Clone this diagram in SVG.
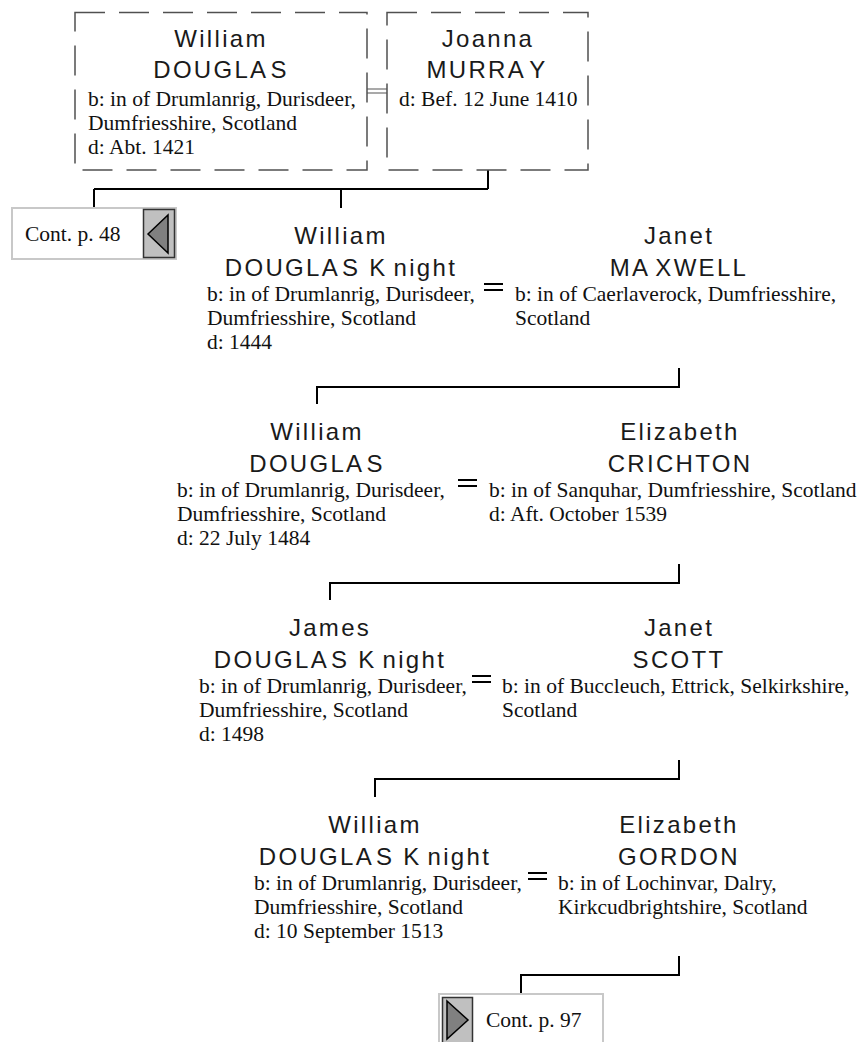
<svg xmlns="http://www.w3.org/2000/svg" width="866" height="1042" viewBox="0 0 866 1042">
<style>
.nm{font-family:"Liberation Sans",Arial,sans-serif;font-size:24px;letter-spacing:2.3px;text-anchor:middle;fill:#1a1a1a}
.dt{font-family:"Liberation Serif","Times New Roman",serif;font-size:21.5px;fill:#111}
.ln{stroke:#000;stroke-width:2;fill:none}
.eq{stroke:#000;stroke-width:2}
.dash{fill:none;stroke:#505050;stroke-width:1.5;stroke-dasharray:30 14}
.cbox{fill:#fff;stroke:#c8c8c8;stroke-width:2}
.btn{fill:#c0c0c0;stroke:#333;stroke-width:1.5}
.tri{fill:#808080;stroke:#000;stroke-width:1.5;stroke-linejoin:miter}
</style>
<rect width="866" height="1042" fill="#fff"/>
<g id="connectors">
<path class="ln" d="M488 170 V189 M94 189 H488 M94 189 V208 M341 189 V208"/>
<path class="ln" d="M679 368 V387 H317 V404"/>
<path class="ln" d="M679 564 V583 H330 V600"/>
<path class="ln" d="M679 760 V779 H375 V797"/>
<path class="ln" d="M679 956 V975 H521 V994"/>
<path d="M367 89 H387 M367 93 H387" stroke="#555" stroke-width="1.2"/>
<path class="eq" d="M484 284 H503 M484 290 H503"/>
<path class="eq" d="M458 480 H477 M458 486 H477"/>
<path class="eq" d="M472 676 H491 M472 682 H491"/>
<path class="eq" d="M528 873 H547 M528 879 H547"/>
</g>
<g id="n-william-douglas-1">
<rect class="dash" x="75" y="12.5" width="292" height="157.5"/>
<text class="nm" x="221" y="47">William</text>
<text class="nm" x="221" y="78">DOUGLA<tspan dx="2">S</tspan></text>
<text class="dt" x="88" y="106">b: in of Drumlanrig, Durisdeer,</text>
<text class="dt" x="88" y="130">Dumfriesshire, Scotland</text>
<text class="dt" x="88" y="154">d: Abt. 1421</text>
</g>
<g id="n-joanna-murray">
<rect class="dash" x="387" y="12.5" width="201" height="157.5"/>
<text class="nm" x="488" y="47">Joanna</text>
<text class="nm" x="487" y="78">MURRA<tspan dx="5">Y</tspan></text>
<text class="dt" x="399" y="106">d: Bef. 12 June 1410</text>
</g>
<g id="n-cont-48">
<rect class="cbox" x="12" y="208" width="164" height="51"/>
<rect class="btn" x="143.5" y="209.5" width="31" height="48"/>
<polygon class="tri" points="148,234 168,215 168,253"/>
<text class="dt" x="25" y="241">Cont. p. 48</text>
</g>
<g id="n-william-douglas-knight-1">
<text class="nm" x="341" y="244">William</text>
<text class="nm" x="341" y="276">DOUGLA<tspan dx="2">S</tspan> K<tspan dx="6">night</tspan></text>
<text class="dt" x="207" y="301">b: in of Drumlanrig, Durisdeer,</text>
<text class="dt" x="207" y="325">Dumfriesshire, Scotland</text>
<text class="dt" x="207" y="349">d: 1444</text>
</g>
<g id="n-janet-maxwell">
<text class="nm" x="679" y="244">Janet</text>
<text class="nm" x="679" y="276">MA<tspan dx="5">XWELL</tspan></text>
<text class="dt" x="515" y="301">b: in of Caerlaverock, Dumfriesshire,</text>
<text class="dt" x="515" y="325">Scotland</text>
</g>
<g id="n-william-douglas-2">
<text class="nm" x="317" y="440">William</text>
<text class="nm" x="317" y="472">DOUGLA<tspan dx="2">S</tspan></text>
<text class="dt" x="177" y="497">b: in of Drumlanrig, Durisdeer,</text>
<text class="dt" x="177" y="521">Dumfriesshire, Scotland</text>
<text class="dt" x="177" y="545">d: 22 July 1484</text>
</g>
<g id="n-elizabeth-crichton">
<text class="nm" x="680" y="440">Elizabeth</text>
<text class="nm" x="680" y="472">CRICHTON</text>
<text class="dt" x="489" y="497">b: in of Sanquhar, Dumfriesshire, Scotland</text>
<text class="dt" x="489" y="521">d: Aft. October 1539</text>
</g>
<g id="n-james-douglas-knight">
<text class="nm" x="330" y="636">James</text>
<text class="nm" x="330" y="668">DOUGLA<tspan dx="2">S</tspan> K<tspan dx="6">night</tspan></text>
<text class="dt" x="199" y="693">b: in of Drumlanrig, Durisdeer,</text>
<text class="dt" x="199" y="717">Dumfriesshire, Scotland</text>
<text class="dt" x="199" y="741">d: 1498</text>
</g>
<g id="n-janet-scott">
<text class="nm" x="679" y="636">Janet</text>
<text class="nm" x="679" y="668">SCOTT</text>
<text class="dt" x="502" y="693">b: in of Buccleuch, Ettrick, Selkirkshire,</text>
<text class="dt" x="502" y="717">Scotland</text>
</g>
<g id="n-william-douglas-knight-2">
<text class="nm" x="375" y="833">William</text>
<text class="nm" x="375" y="865">DOUGLA<tspan dx="2">S</tspan> K<tspan dx="6">night</tspan></text>
<text class="dt" x="254" y="890">b: in of Drumlanrig, Durisdeer,</text>
<text class="dt" x="254" y="914">Dumfriesshire, Scotland</text>
<text class="dt" x="254" y="938">d: 10 September 1513</text>
</g>
<g id="n-elizabeth-gordon">
<text class="nm" x="679" y="833">Elizabeth</text>
<text class="nm" x="679" y="865">GORDON</text>
<text class="dt" x="558" y="890">b: in of Lochinvar, Dalry,</text>
<text class="dt" x="558" y="914">Kirkcudbrightshire, Scotland</text>
</g>
<g id="n-cont-97">
<rect class="cbox" x="439" y="994" width="164" height="60"/>
<rect class="btn" x="442.5" y="997.5" width="30" height="50"/>
<polygon class="tri" points="447,1001 468,1020 447,1039"/>
<text class="dt" x="486" y="1027">Cont. p. 97</text>
</g>
</svg>
